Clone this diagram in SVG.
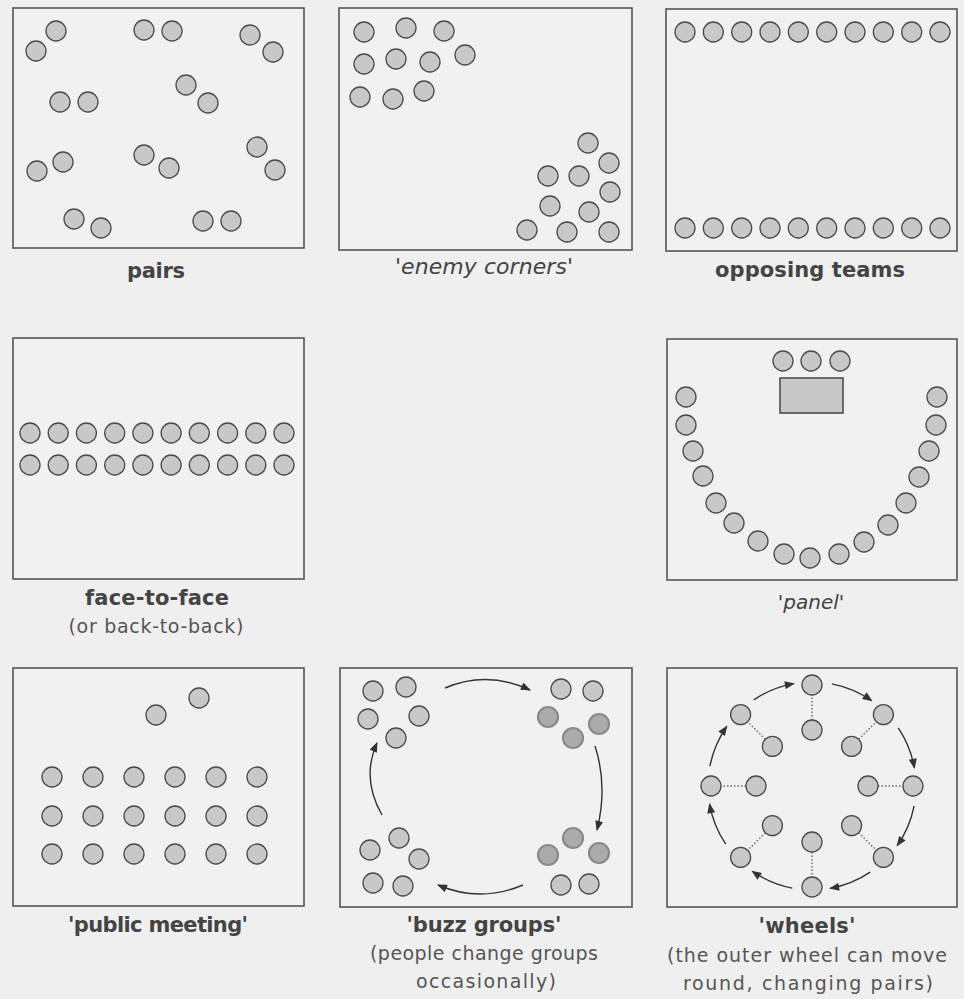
<svg xmlns="http://www.w3.org/2000/svg" width="964" height="999" viewBox="0 0 964 999">
<defs>
<style>
.bg{fill:#efefef}
.box{fill:#f1f1f1;stroke:#555;stroke-width:1.6}
.c{fill:#c8c8c8;stroke:#4a4a4a;stroke-width:1.3}
.cd{fill:#ababab;stroke:#8a8a8a;stroke-width:2.2}
.tbl{fill:#c8c8c8;stroke:#444;stroke-width:1.5}
.lab{font-family:"DejaVu Sans",sans-serif;font-weight:bold;font-size:21px;fill:#444;text-anchor:middle}
.ital{font-family:"DejaVu Sans",sans-serif;font-style:italic;font-size:22px;fill:#444;text-anchor:middle}
.sub{font-family:"DejaVu Sans",sans-serif;font-size:19px;fill:#555;text-anchor:middle}
.arr{fill:none;stroke:#333;stroke-width:1.4;marker-end:url(#ah)}
.dot{stroke:#666;stroke-width:1.4;stroke-dasharray:1.5 2}
</style>
<marker id="ah" viewBox="0 0 10 8" refX="9" refY="4" markerWidth="11" markerHeight="8" markerUnits="userSpaceOnUse" orient="auto"><path d="M0,0 L10,4 L0,8 z" fill="#333"/></marker>
</defs>
<rect class="bg" x="0" y="0" width="964" height="999"/>

<g id="pairs">
<rect class="box" x="13" y="8" width="291" height="240"/>
<circle class="c" cx="56" cy="31" r="10"/><circle class="c" cx="36" cy="51" r="10"/>
<circle class="c" cx="144" cy="30" r="10"/><circle class="c" cx="172" cy="31" r="10"/>
<circle class="c" cx="250" cy="35" r="10"/><circle class="c" cx="273" cy="52" r="10"/>
<circle class="c" cx="186" cy="85" r="10"/><circle class="c" cx="208" cy="103" r="10"/>
<circle class="c" cx="60" cy="102" r="10"/><circle class="c" cx="88" cy="102" r="10"/>
<circle class="c" cx="63" cy="162" r="10"/><circle class="c" cx="37" cy="171" r="10"/>
<circle class="c" cx="144" cy="155" r="10"/><circle class="c" cx="169" cy="168" r="10"/>
<circle class="c" cx="257" cy="147" r="10"/><circle class="c" cx="275" cy="170" r="10"/>
<circle class="c" cx="74" cy="219" r="10"/><circle class="c" cx="101" cy="228" r="10"/>
<circle class="c" cx="203" cy="221" r="10"/><circle class="c" cx="231" cy="221" r="10"/>
<text class="lab" x="156" y="278" textLength="58">pairs</text>
</g>

<g id="enemy-corners">
<rect class="box" x="339" y="8" width="293" height="242"/>
<circle class="c" cx="364" cy="32" r="10"/><circle class="c" cx="406" cy="28" r="10"/><circle class="c" cx="444" cy="31" r="10"/>
<circle class="c" cx="364" cy="64" r="10"/><circle class="c" cx="396" cy="59" r="10"/><circle class="c" cx="430" cy="62" r="10"/><circle class="c" cx="465" cy="55" r="10"/>
<circle class="c" cx="360" cy="97" r="10"/><circle class="c" cx="393" cy="99" r="10"/><circle class="c" cx="424" cy="91" r="10"/>
<circle class="c" cx="588" cy="143" r="10"/><circle class="c" cx="609" cy="163" r="10"/>
<circle class="c" cx="548" cy="176" r="10"/><circle class="c" cx="579" cy="176" r="10"/><circle class="c" cx="610" cy="192" r="10"/>
<circle class="c" cx="550" cy="206" r="10"/><circle class="c" cx="589" cy="212" r="10"/>
<circle class="c" cx="527" cy="230" r="10"/><circle class="c" cx="567" cy="232" r="10"/><circle class="c" cx="609" cy="232" r="10"/>
<text class="ital" x="484" y="274" textLength="178">'enemy corners'</text>
</g>

<g id="opposing-teams">
<rect class="box" x="666" y="9" width="291" height="242"/>
<circle class="c" cx="685" cy="32" r="10"/><circle class="c" cx="713.3" cy="32" r="10"/><circle class="c" cx="741.7" cy="32" r="10"/><circle class="c" cx="770" cy="32" r="10"/><circle class="c" cx="798.3" cy="32" r="10"/>
<circle class="c" cx="826.7" cy="32" r="10"/><circle class="c" cx="855" cy="32" r="10"/><circle class="c" cx="883.3" cy="32" r="10"/><circle class="c" cx="911.7" cy="32" r="10"/><circle class="c" cx="940" cy="32" r="10"/>
<circle class="c" cx="685" cy="228" r="10"/><circle class="c" cx="713.3" cy="228" r="10"/><circle class="c" cx="741.7" cy="228" r="10"/><circle class="c" cx="770" cy="228" r="10"/><circle class="c" cx="798.3" cy="228" r="10"/>
<circle class="c" cx="826.7" cy="228" r="10"/><circle class="c" cx="855" cy="228" r="10"/><circle class="c" cx="883.3" cy="228" r="10"/><circle class="c" cx="911.7" cy="228" r="10"/><circle class="c" cx="940" cy="228" r="10"/>
<text class="lab" x="810" y="277" textLength="190">opposing teams</text>
</g>

<g id="face-to-face">
<rect class="box" x="13" y="338" width="291" height="241"/>
<circle class="c" cx="30" cy="433" r="10"/><circle class="c" cx="58.2" cy="433" r="10"/><circle class="c" cx="86.4" cy="433" r="10"/><circle class="c" cx="114.7" cy="433" r="10"/><circle class="c" cx="142.9" cy="433" r="10"/>
<circle class="c" cx="171.1" cy="433" r="10"/><circle class="c" cx="199.3" cy="433" r="10"/><circle class="c" cx="227.6" cy="433" r="10"/><circle class="c" cx="255.8" cy="433" r="10"/><circle class="c" cx="284" cy="433" r="10"/>
<circle class="c" cx="30" cy="465" r="10"/><circle class="c" cx="58.2" cy="465" r="10"/><circle class="c" cx="86.4" cy="465" r="10"/><circle class="c" cx="114.7" cy="465" r="10"/><circle class="c" cx="142.9" cy="465" r="10"/>
<circle class="c" cx="171.1" cy="465" r="10"/><circle class="c" cx="199.3" cy="465" r="10"/><circle class="c" cx="227.6" cy="465" r="10"/><circle class="c" cx="255.8" cy="465" r="10"/><circle class="c" cx="284" cy="465" r="10"/>
<text class="lab" x="157" y="605" textLength="144">face-to-face</text>
<text class="sub" x="156" y="633" textLength="175">(or back-to-back)</text>
</g>

<g id="panel">
<rect class="box" x="667" y="339" width="290" height="241"/>
<circle class="c" cx="783" cy="361" r="10"/><circle class="c" cx="811" cy="361" r="10"/><circle class="c" cx="840" cy="361" r="10"/>
<rect class="tbl" x="780" y="378" width="63" height="35"/>
<circle class="c" cx="686" cy="397" r="10"/><circle class="c" cx="686" cy="425" r="10"/><circle class="c" cx="693" cy="451" r="10"/><circle class="c" cx="703" cy="476" r="10"/>
<circle class="c" cx="716" cy="503" r="10"/><circle class="c" cx="734" cy="523" r="10"/><circle class="c" cx="758" cy="541" r="10"/><circle class="c" cx="784" cy="554" r="10"/>
<circle class="c" cx="810" cy="558" r="10"/>
<circle class="c" cx="839" cy="554" r="10"/><circle class="c" cx="864" cy="542" r="10"/><circle class="c" cx="888" cy="525" r="10"/><circle class="c" cx="906" cy="503" r="10"/>
<circle class="c" cx="919" cy="477" r="10"/><circle class="c" cx="929" cy="451" r="10"/><circle class="c" cx="936" cy="425" r="10"/><circle class="c" cx="937" cy="397" r="10"/>
<text class="ital" x="811" y="609" style="font-size:20px">'panel'</text>
</g>

<g id="public-meeting">
<rect class="box" x="13" y="668" width="291" height="238"/>
<circle class="c" cx="199" cy="698" r="10"/><circle class="c" cx="156" cy="715" r="10"/>
<circle class="c" cx="52" cy="777" r="10"/><circle class="c" cx="93" cy="777" r="10"/><circle class="c" cx="134" cy="777" r="10"/><circle class="c" cx="175" cy="777" r="10"/><circle class="c" cx="216" cy="777" r="10"/><circle class="c" cx="257" cy="777" r="10"/>
<circle class="c" cx="52" cy="816" r="10"/><circle class="c" cx="93" cy="816" r="10"/><circle class="c" cx="134" cy="816" r="10"/><circle class="c" cx="175" cy="816" r="10"/><circle class="c" cx="216" cy="816" r="10"/><circle class="c" cx="257" cy="816" r="10"/>
<circle class="c" cx="52" cy="854" r="10"/><circle class="c" cx="93" cy="854" r="10"/><circle class="c" cx="134" cy="854" r="10"/><circle class="c" cx="175" cy="854" r="10"/><circle class="c" cx="216" cy="854" r="10"/><circle class="c" cx="257" cy="854" r="10"/>
<text class="lab" x="158" y="932" textLength="180">'public meeting'</text>
</g>

<g id="buzz-groups">
<rect class="box" x="340" y="668" width="292" height="239"/>
<circle class="c" cx="373" cy="691" r="10"/><circle class="c" cx="406" cy="687" r="10"/><circle class="c" cx="368" cy="719" r="10"/><circle class="c" cx="419" cy="716" r="10"/><circle class="c" cx="396" cy="738" r="10"/>
<circle class="c" cx="561" cy="689" r="10"/><circle class="c" cx="593" cy="691" r="10"/>
<circle class="cd" cx="548" cy="717" r="10"/><circle class="cd" cx="599" cy="724" r="10"/><circle class="cd" cx="573" cy="738" r="10"/>
<circle class="cd" cx="573" cy="838" r="10"/><circle class="cd" cx="599" cy="853" r="10"/><circle class="cd" cx="548" cy="855" r="10"/>
<circle class="c" cx="561" cy="885" r="10"/><circle class="c" cx="589" cy="884" r="10"/>
<circle class="c" cx="399" cy="838" r="10"/><circle class="c" cx="370" cy="850" r="10"/><circle class="c" cx="419" cy="859" r="10"/><circle class="c" cx="373" cy="883" r="10"/><circle class="c" cx="403" cy="886" r="10"/>
<text class="lab" x="484" y="932" textLength="155">'buzz groups'</text>
<text class="sub" x="484" y="960" textLength="228">(people change groups</text>
<text class="sub" x="486" y="988" textLength="140">occasionally)</text>
</g>

<g id="wheels">
<rect class="box" x="667" y="668" width="290" height="239"/>
<circle class="c" cx="812" cy="685" r="10"/><circle class="c" cx="883.4" cy="714.6" r="10"/><circle class="c" cx="913" cy="786" r="10"/><circle class="c" cx="883.4" cy="857.4" r="10"/>
<circle class="c" cx="812" cy="887" r="10"/><circle class="c" cx="740.6" cy="857.4" r="10"/><circle class="c" cx="711" cy="786" r="10"/><circle class="c" cx="740.6" cy="714.6" r="10"/>
<circle class="c" cx="812" cy="730" r="10"/><circle class="c" cx="851.6" cy="746.4" r="10"/><circle class="c" cx="868" cy="786" r="10"/><circle class="c" cx="851.6" cy="825.6" r="10"/>
<circle class="c" cx="812" cy="842" r="10"/><circle class="c" cx="772.4" cy="825.6" r="10"/><circle class="c" cx="756" cy="786" r="10"/><circle class="c" cx="772.4" cy="746.4" r="10"/>
<text class="lab" x="807" y="933" textLength="97">'wheels'</text>
<text class="sub" x="807" y="962" textLength="280">(the outer wheel can move</text>
<text class="sub" x="808" y="990" textLength="250">round, changing pairs)</text>
</g>

<g id="connectors">
<path class="arr" d="M445,688 Q487,670 530,690"/>
<path class="arr" d="M595,746 Q608,786 597,830"/>
<path class="arr" d="M523,885 Q480,903 438,885"/>
<path class="arr" d="M382,815 Q361,778 377,743"/>
<path class="arr" d="M831.8,683.9 A104,104 0 0 1 871.7,700.8"/>
<path class="arr" d="M898.2,727.8 A104,104 0 0 1 914.4,767.9"/>
<path class="arr" d="M914.1,805.8 A104,104 0 0 1 897.2,845.7"/>
<path class="arr" d="M870.2,872.2 A104,104 0 0 1 830.1,888.4"/>
<path class="arr" d="M792.2,888.1 A104,104 0 0 1 752.3,871.2"/>
<path class="arr" d="M725.8,844.2 A104,104 0 0 1 709.6,804.1"/>
<path class="arr" d="M709.9,766.2 A104,104 0 0 1 726.8,726.3"/>
<path class="arr" d="M753.8,699.8 A104,104 0 0 1 793.9,683.6"/>
<line class="dot" x1="812" y1="720" x2="812" y2="695"/>
<line class="dot" x1="858.7" y1="739.3" x2="876.3" y2="721.7"/>
<line class="dot" x1="878" y1="786" x2="903" y2="786"/>
<line class="dot" x1="858.7" y1="832.7" x2="876.3" y2="850.3"/>
<line class="dot" x1="812" y1="852" x2="812" y2="877"/>
<line class="dot" x1="765.3" y1="832.7" x2="747.7" y2="850.3"/>
<line class="dot" x1="746" y1="786" x2="721" y2="786"/>
<line class="dot" x1="765.3" y1="739.3" x2="747.7" y2="721.7"/>
</g>
</svg>
